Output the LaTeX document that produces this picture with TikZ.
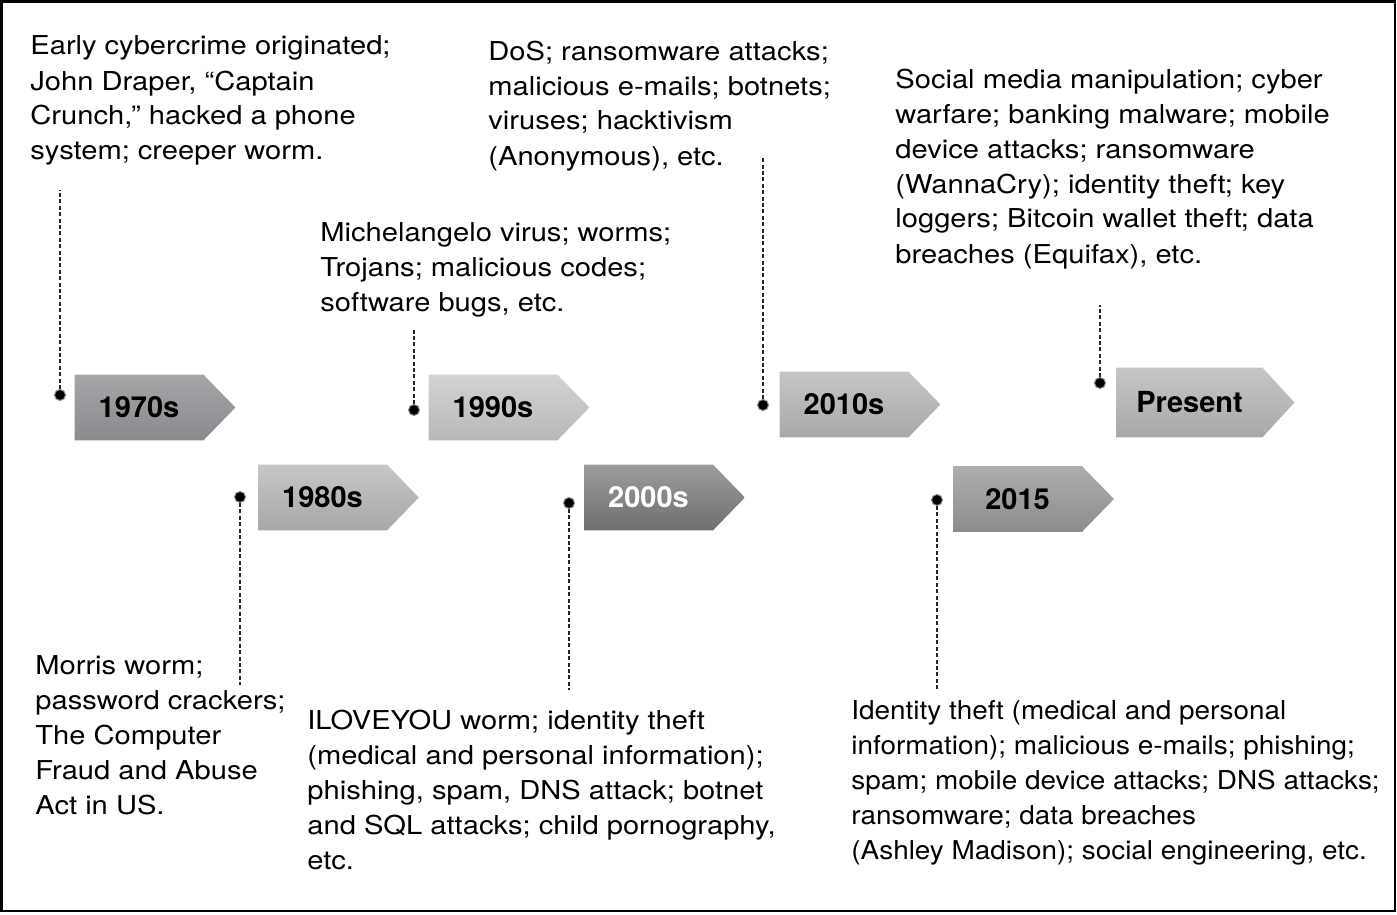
\documentclass[tikz,border=0pt]{standalone}
\usepackage{fontspec}
\setmainfont{TeX Gyre Heros}
\newfontfamily\descfont[FakeStretch=1.12]{TeX Gyre Heros}
\newfontfamily\descfontn[FakeStretch=1.073]{TeX Gyre Heros}
\usetikzlibrary{calc}
\pgfdeclarelayer{bg}
\pgfsetlayers{bg,main}
\definecolor{gA1}{HTML}{A6A6A9}\definecolor{gA2}{HTML}{8A8A8E}
\definecolor{gB1}{HTML}{C6C6C8}\definecolor{gB2}{HTML}{A8A8AA}
\definecolor{gC1}{HTML}{D3D3D5}\definecolor{gC2}{HTML}{B8B8BA}
\definecolor{gD1}{HTML}{9C9C9E}\definecolor{gD2}{HTML}{6E6E70}
\definecolor{gE1}{HTML}{AEAEB0}\definecolor{gE2}{HTML}{8C8C8E}
\begin{document}
\begin{tikzpicture}[x=0.5pt,y=-0.5pt,
  yearbox/.style={minimum width=64pt,minimum height=32.5pt,inner sep=0pt,
    font=\fontsize{14.5}{17}\selectfont\bfseries},
  desc/.style={anchor=base west,align=left,inner sep=0pt,
    font=\descfont\fontsize{13}{17.5}\selectfont},
  descn/.style={desc,font=\descfontn\fontsize{13}{17.5}\selectfont},
  dotn/.style={circle,fill=black,draw=black!45,line width=0.5pt,inner sep=0pt,minimum size=5.5pt},
  lead/.style={dashed,dash pattern=on 2pt off 1.2pt,line width=0.6pt,black!85}]
\useasboundingbox (0,0) rectangle (1397,915);
\draw[line width=1.3pt] (1.5,1.5) rectangle (1395,911);
% year boxes
\node[yearbox] (y70) at (139,407.5) {1970s};
\node[yearbox] (y80) at (322.5,497.5) {1980s};
\node[yearbox] (y90) at (493,407.5) {1990s};
\node[yearbox,text=white] (y00) at (648.5,497.5) {2000s};
\node[yearbox] (y10) at (844,404.5) {2010s};
\node[yearbox] (y15) at (1017.5,499) {2015};
\node[yearbox,minimum width=72.5pt,minimum height=34.5pt] (yp) at (1189.5,402.5) {Present};
\begin{pgfonlayer}{bg}
\foreach \n/\a/\b in {y70/gA1/gA2,y80/gB1/gB2,y90/gC1/gC2,y00/gD1/gD2,y10/gB1/gB2,y15/gE1/gE2,yp/gB1/gB2}{
  \shade[top color=\a,bottom color=\b] (\n.north west) -- (\n.north east) -- ($(\n.east)+(32,0)$) -- (\n.south east) -- (\n.south west) -- cycle;
}
\end{pgfonlayer}
% dots
\node[dotn] (d70) at (60,395) {};
\node[dotn] (d80) at (240,497) {};
\node[dotn] (d90) at (414,410) {};
\node[dotn] (d00) at (569,503) {};
\node[dotn] (d10) at (763,405) {};
\node[dotn] (d15) at (937,500) {};
\node[dotn] (dp) at (1100,383) {};
\coordinate (e70) at (60,190);
\coordinate (e80) at (240,685);
\coordinate (e90) at (414,330);
\coordinate (e00) at (569,690);
\coordinate (e10) at (763,158);
\coordinate (e15) at (937,690);
\coordinate (ep) at (1100,305);
\foreach \n in {70,80,90,00,10,15,p}{\draw[lead] (d\n) -- (e\n);}
% descriptions (anchored at the baseline of the last line)
\node[desc] (t70) at (30,160) {Early cybercrime originated;\\John Draper, “Captain\\Crunch,” hacked a phone\\system; creeper worm.};
\node[desc] (t80) at (35,814) {Morris worm;\\password crackers;\\The Computer\\Fraud and Abuse\\Act in US.};
\node[desc] (t90) at (320,311) {Michelangelo virus; worms;\\Trojans; malicious codes;\\software bugs, etc.};
\node[desc] (t00) at (307,869) {ILOVEYOU worm; identity theft\\(medical and personal information);\\phishing, spam, DNS attack; botnet\\and SQL attacks; child pornography,\\etc.};
\node[desc] (t10) at (488,165) {DoS; ransomware attacks;\\malicious e-mails; botnets;\\viruses; hacktivism\\(Anonymous), etc.};
\node[descn] (t15) at (851,859) {Identity theft (medical and personal\\information); malicious e-mails; phishing;\\spam; mobile device attacks; DNS attacks;\\ransomware; data breaches\\(Ashley Madison); social engineering, etc.};
\node[desc] (tp) at (895,263) {Social media manipulation; cyber\\warfare; banking malware; mobile\\device attacks; ransomware\\(WannaCry); identity theft; key\\loggers; Bitcoin wallet theft; data\\breaches (Equifax), etc.};
\end{tikzpicture}
\end{document}
